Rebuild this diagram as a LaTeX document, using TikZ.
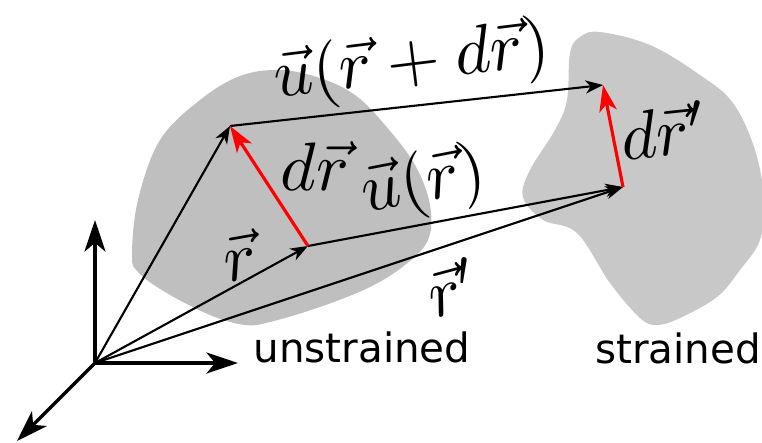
\documentclass[tikz,border=0pt]{standalone}
\usepackage{amsmath}
\usepackage{fontspec}
\newfontfamily\bodyfont{DejaVu Sans}
\usetikzlibrary{arrows.meta}
\definecolor{unstrainedgray}{HTML}{BFBFBF}
\definecolor{strainedgray}{HTML}{C8C8C8}

\begin{document}
\begin{tikzpicture}[x=0.02cm, y=-0.02cm,
  axis/.style={line width=1.9pt, line cap=round, -{Stealth[length=18pt, width=12pt, inset=5pt]}},
  vec/.style={line width=1.2pt, -{Stealth[length=10pt, width=7.5pt, inset=3pt]}},
  dvec/.style={red, line width=1.8pt, -{Stealth[length=15pt, width=10pt, inset=4pt]}},
  vlabel/.style={scale=3.9, inner sep=0pt},
  bodylabel/.style={font=\bodyfont\fontsize{23}{27}\selectfont, anchor=base, inner sep=0pt}]
  \useasboundingbox (0,0) rectangle (762,443);
  % bodies
  \fill[unstrainedgray] plot[smooth cycle, tension=0.6] coordinates {
    (132,255) (138,200) (160,140) (200,100) (240,76) (280,70) (320,78)
    (355,95) (385,125) (415,165) (430,205) (428,240) (405,265) (370,287)
    (320,307) (270,322) (245,325) (210,315) (165,292) (138,272)};
  \fill[strainedgray] plot[smooth cycle, tension=0.6] coordinates {
    (600,32) (650,45) (700,75) (733,103) (755,150) (764,200) (760,240)
    (740,270) (717,297) (680,318) (657,325) (640,318) (610,283) (577,233)
    (543,220) (523,197) (530,170) (555,130) (567,100) (570,53) (580,37)};
  % points
  \coordinate (O) at (95,363);
  \coordinate (P) at (308,246);
  \coordinate (Q) at (230,126);
  \coordinate (Pp) at (623,187);
  \coordinate (Qp) at (603,85);
  % axes
  \coordinate (ex) at (238,363);
  \coordinate (ey) at (95,220);
  \coordinate (ez) at (17,441);
  \draw[axis] (O) -- (ex);
  \draw[axis] (O) -- (ey);
  \draw[axis] (O) -- (ez);
  % position vectors
  \draw[vec] (O) -- (P);
  \draw[vec] (O) -- (Q);
  \draw[vec] (O) -- (Pp);
  % displacements
  \draw[vec] (P) -- (Pp);
  \draw[vec] (Q) -- (Qp);
  % line elements
  \draw[dvec] (P) -- (Q);
  \draw[dvec] (Pp) -- (Qp);
  % labels
  \node[vlabel, rotate=10] (lr) at (239,256) {$\vec{r}$};
  \node[vlabel, rotate=15] (lrp) at (453,287) {$\vec{r}'$};
  \node[vlabel] (ldr) at (315,166) {$d\vec{r}$};
  \node[vlabel, rotate=6] (ldrp) at (664,130) {$d\vec{r}'$};
  \node[vlabel, rotate=11] (lu) at (424,184) {$\vec{u}(\vec{r})$};
  \node[vlabel, rotate=7] (ludr) at (412,64) {$\vec{u}(\vec{r}+d\vec{r})$};
  \node[bodylabel] (lunstr) at (362,362) {unstrained};
  \node[bodylabel] (lstr) at (678,363) {strained};
\end{tikzpicture}
\end{document}
